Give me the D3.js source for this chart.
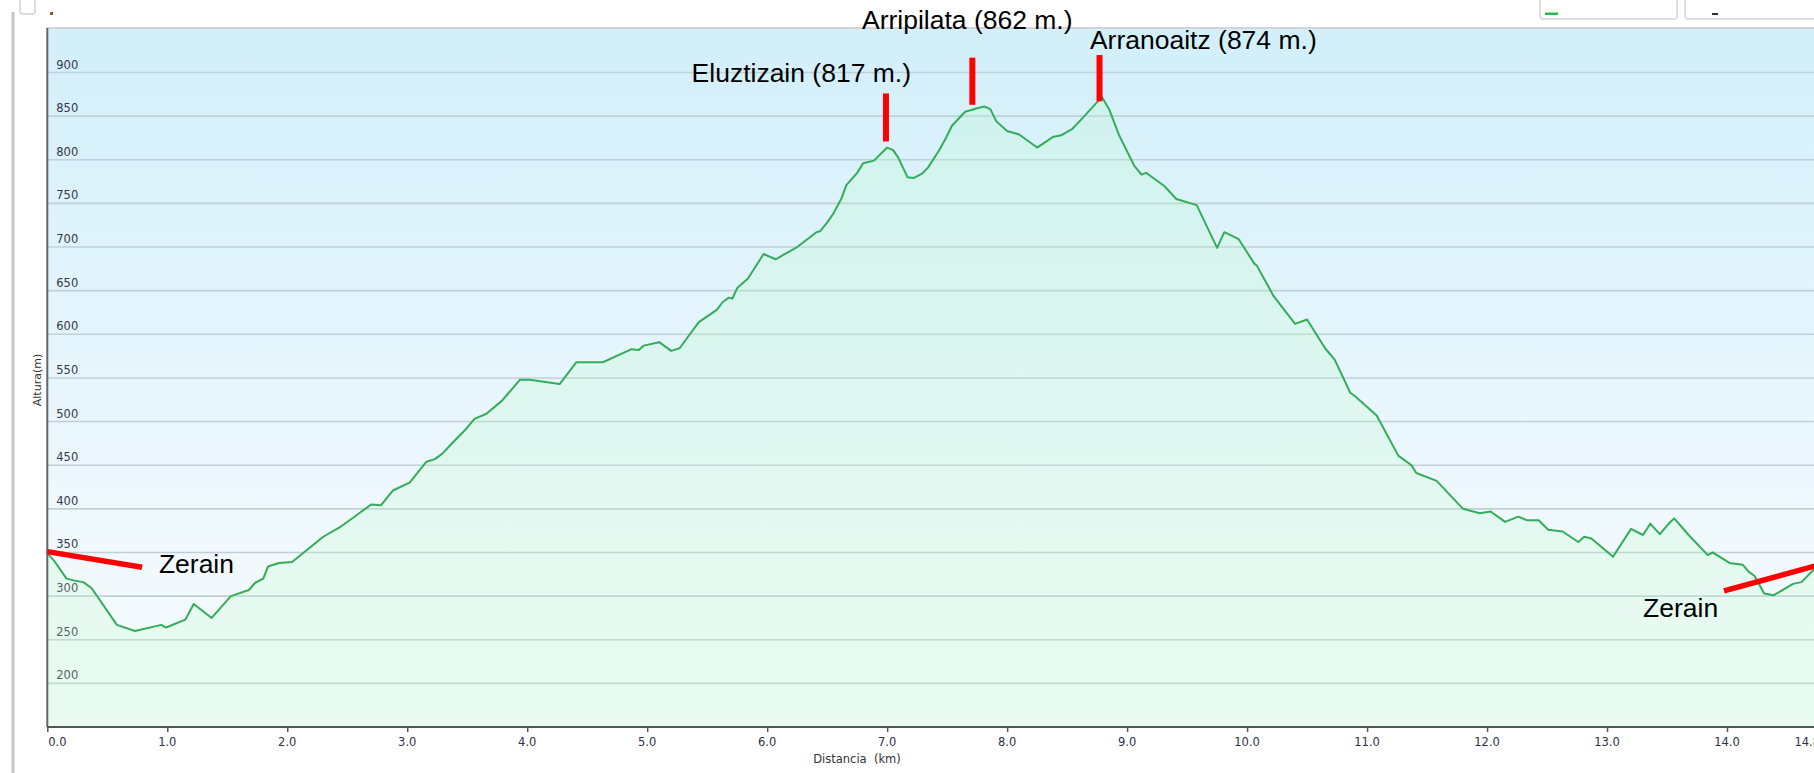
<!DOCTYPE html>
<html>
<head>
<meta charset="utf-8">
<script src="https://cdn.jsdelivr.net/npm/d3@7"></script>
<style>
  body { margin: 0; background: #fff; overflow: hidden; }
  svg { display: block; }
</style>
</head>
<body>
<svg id="main"></svg>
<script>
// perfil: distancia (km) y altura (m)
var distancia = [0.00, 0.06, 0.16, 0.22, 0.30, 0.37, 0.58, 0.73, 0.95, 0.99, 1.15, 1.22, 1.37, 1.53, 1.68, 1.73, 1.80, 1.84, 1.93, 2.04,
    2.30, 2.45, 2.54, 2.70, 2.78, 2.88, 3.02, 3.16, 3.23, 3.29, 3.38, 3.48, 3.56, 3.66, 3.79, 3.94, 4.02, 4.27, 4.41, 4.63,
    4.87, 4.93, 4.97, 5.10, 5.20, 5.27, 5.43, 5.58, 5.63, 5.68, 5.71, 5.75, 5.84, 5.97, 6.07, 6.25, 6.41, 6.44, 6.50, 6.55,
    6.62, 6.66, 6.75, 6.80, 6.89, 7.00, 7.05, 7.09, 7.17, 7.22, 7.29, 7.34, 7.43, 7.49, 7.54, 7.65, 7.75, 7.81, 7.86, 7.91,
    8.00, 8.10, 8.25, 8.38, 8.45, 8.54, 8.63, 8.79, 8.85, 8.93, 9.06, 9.12, 9.16, 9.19, 9.31, 9.41, 9.58, 9.75, 9.81, 9.93,
    10.06, 10.08, 10.22, 10.26, 10.40, 10.50, 10.65, 10.73, 10.86, 10.90, 11.08, 11.26, 11.37, 11.41, 11.58, 11.80, 11.94, 12.03, 12.15, 12.26,
    12.33, 12.43, 12.51, 12.63, 12.76, 12.81, 12.87, 13.05, 13.20, 13.30, 13.36, 13.44, 13.52, 13.56, 13.68, 13.84, 13.88, 14.02, 14.13, 14.18,
    14.23, 14.31, 14.39, 14.55, 14.62, 14.72, 14.80]
var altura = [349, 340, 320, 318, 316, 309, 267, 260, 267, 264, 273, 291, 275, 300, 307, 315, 320, 334, 338, 339,
    368, 380, 389, 405, 404, 421, 430, 454, 457, 463, 476, 490, 503, 509, 524, 548, 548, 543, 568, 568,
    583, 582, 587, 591, 581, 584, 614, 628, 637, 642, 641, 653, 664, 692, 686, 700, 717, 718, 728, 738,
    756, 771, 785, 796, 799, 814, 811, 803, 780, 779, 784, 791, 810, 825, 839, 855, 859, 861, 858, 844,
    833, 829, 814, 826, 828, 835, 848, 872, 858, 829, 793, 783, 785, 782, 770, 755, 748, 699, 717, 709,
    681, 679, 644, 637, 612, 617, 584, 571, 533, 529, 507, 461, 450, 441, 432, 400, 395, 397, 385, 391,
    387, 387, 376, 374, 362, 368, 366, 345, 377, 370, 383, 371, 384, 389, 370, 347, 350, 338, 336, 328,
    323, 303, 301, 314, 316, 330, 338]

var yTicks = [200, 250, 300, 350, 400, 450, 500, 550, 600, 650, 700, 750, 800, 850, 900]
var xTicks = [0, 1, 2, 3, 4, 5, 6, 7, 8, 9, 10, 11, 12, 13, 14]
var xLabels = ["0.0", "1.0", "2.0", "3.0", "4.0", "5.0", "6.0", "7.0", "8.0", "9.0", "10.0", "11.0", "12.0", "13.0", "14.0", "14.8"]
var xLabelValues = [0, 1, 2, 3, 4, 5, 6, 7, 8, 9, 10, 11, 12, 13, 14, 14.8]

// cimas: nombre, km de la marca, altura de la marca (baja / alta)
var cimaNombre = ["Eluztizain (817 m.)", "Arripilata (862 m.)", "Arranoaitz (874 m.)"]
var cimaKm = [6.99, 7.71, 8.77]
var cimaBaja = [821, 863, 867]
var cimaAlta = [876, 917, 920]
var cimaTextoKm = [5.37, 6.79, 8.69]
var cimaTextoAlt = [889, 950, 927]

// Zerain: salida y llegada
var zerainKm = [[0, 0.79], [13.975, 14.8]]
var zerainAlt = [[351, 333], [306, 337]]
var zerainTextoKm = [0.93, 13.30]
var zerainTextoAlt = [326, 276]

var W = 1814, H = 773
var svg = d3.select('#main').attr('width', W).attr('height', H)

var x = d3.scaleLinear().domain([0, 14.8]).range([47.3, 1823])
var y = d3.scaleLinear().domain([150, 951]).range([727, 28])
var plotLeft = x(0), plotRight = x(14.8), plotTop = y(951), plotBottom = y(150)

var defs = svg.append('defs')
var bg = defs.append('linearGradient').attr('id', 'fondo')
    .attr('x1', 0).attr('y1', 0).attr('x2', 0).attr('y2', 1)
bg.append('stop').attr('offset', '0%').attr('stop-color', '#d2effa')
bg.append('stop').attr('offset', '40%').attr('stop-color', '#e3f4fc')
bg.append('stop').attr('offset', '75%').attr('stop-color', '#f1f9fe')
bg.append('stop').attr('offset', '100%').attr('stop-color', '#f6fcfd')

// marco exterior y controles recortados arriba
svg.append('line').attr('x1', 13).attr('x2', 13).attr('y1', 12).attr('y2', H)
    .attr('stroke', '#c4c4c8').attr('stroke-width', 3)
svg.append('rect').attr('x', 20).attr('y', -6).attr('width', 15).attr('height', 20).attr('rx', 2)
    .attr('fill', '#fff').attr('stroke', '#b8b8b8')
svg.append('rect').attr('x', 50).attr('y', 12).attr('width', 3).attr('height', 3).attr('fill', '#8a5a2a')
svg.append('rect').attr('x', 1540).attr('y', -10).attr('width', 137).attr('height', 29).attr('rx', 3)
    .attr('fill', '#fff').attr('stroke', '#dedee2').attr('stroke-width', 2)
svg.append('rect').attr('x', 1685).attr('y', -10).attr('width', 140).attr('height', 29).attr('rx', 3)
    .attr('fill', '#fff').attr('stroke', '#dedee2').attr('stroke-width', 2)
svg.append('rect').attr('x', 1545).attr('y', 12.5).attr('width', 13).attr('height', 2.5).attr('fill', '#2db84f')
svg.append('rect').attr('x', 1712).attr('y', 13).attr('width', 6).attr('height', 2).attr('fill', '#333')

// fondo del grafico
svg.append('rect').attr('x', plotLeft).attr('y', plotTop)
    .attr('width', plotRight - plotLeft).attr('height', plotBottom - plotTop)
    .attr('fill', 'url(#fondo)')

// rejilla y etiquetas del eje Y
svg.append('g').selectAll('line').data(yTicks).enter().append('line')
    .attr('x1', plotLeft).attr('x2', plotRight)
    .attr('y1', function(d) { return y(d) }).attr('y2', function(d) { return y(d) })
    .attr('stroke', '#c0d0d8').attr('stroke-width', 1.6)

svg.append('g').selectAll('text').data(yTicks).enter().append('text')
    .attr('x', plotLeft + 9)
    .attr('y', function(d) { return y(d) - 4 })
    .text(function(d) { return d })
    .style('font-family', 'DejaVu Sans, Verdana, sans-serif')
    .style('font-size', '11.5px')
    .attr('fill', '#36364a')

// area y linea del perfil
var puntos = distancia.map(function(d, i) { return [d, altura[i]] })
var area = d3.area()
    .x(function(d) { return x(d[0]) })
    .y0(plotBottom)
    .y1(function(d) { return y(d[1]) })
var linea = d3.line()
    .x(function(d) { return x(d[0]) })
    .y(function(d) { return y(d[1]) })

svg.append('path').datum(puntos).attr('d', area)
    .attr('fill', 'rgb(185,250,195)').attr('fill-opacity', 0.22)
svg.append('path').datum(puntos).attr('d', linea)
    .attr('fill', 'none').attr('stroke', '#34ad58').attr('stroke-width', 2)
    .attr('stroke-linejoin', 'round')

// bordes
svg.append('line').attr('x1', plotLeft - 1).attr('x2', W).attr('y1', plotTop).attr('y2', plotTop)
    .attr('stroke', '#d2d4d6').attr('stroke-width', 2)
svg.append('line').attr('x1', plotLeft).attr('x2', plotLeft).attr('y1', plotTop).attr('y2', plotBottom)
    .attr('stroke', '#666').attr('stroke-width', 2)

// eje X
var xAxis = svg.append('g').attr('transform', 'translate(0,' + plotBottom + ')')
    .call(d3.axisBottom(x).tickValues(xTicks).tickSize(5).tickFormat(''))
xAxis.select('.domain').attr('stroke', '#555').attr('stroke-width', 2)
    .attr('d', 'M' + plotLeft + ',0H' + plotRight)
xAxis.selectAll('.tick line').attr('stroke', '#555').attr('stroke-width', 1.5)

svg.append('g').selectAll('text').data(xLabelValues).enter().append('text')
    .attr('x', function(d, i) {
        if (i === 0) return x(d) + 1
        if (i === xLabelValues.length - 1) return x(d) - 3
        return x(d)
    })
    .attr('y', plotBottom + 19)
    .attr('text-anchor', function(d, i) {
        if (i === 0) return 'start'
        if (i === xLabelValues.length - 1) return 'end'
        return 'middle'
    })
    .text(function(d, i) { return xLabels[i] })
    .style('font-family', 'DejaVu Sans, Verdana, sans-serif')
    .style('font-size', '11.5px')
    .attr('fill', '#2f2f4a')

svg.append('text').attr('x', 857).attr('y', 763).attr('text-anchor', 'middle')
    .text('Distancia  (km)')
    .style('white-space', 'pre')
    .style('font-family', 'DejaVu Sans, Verdana, sans-serif')
    .style('font-size', '11.5px').attr('fill', '#333')

svg.append('text').attr('transform', 'translate(41,380) rotate(-90)').attr('text-anchor', 'middle')
    .text('Altura(m)')
    .style('font-family', 'DejaVu Sans, Verdana, sans-serif')
    .style('font-size', '11px').attr('fill', '#333')

// marcas de las cimas
var cimas = svg.append('g')
cimas.selectAll('line').data(cimaKm).enter().append('line')
    .attr('x1', function(d) { return x(d) }).attr('x2', function(d) { return x(d) })
    .attr('y1', function(d, i) { return y(cimaBaja[i]) })
    .attr('y2', function(d, i) { return y(cimaAlta[i]) })
    .attr('stroke', '#ff0000').attr('stroke-width', 6)
cimas.selectAll('text').data(cimaNombre).enter().append('text')
    .attr('x', function(d, i) { return x(cimaTextoKm[i]) })
    .attr('y', function(d, i) { return y(cimaTextoAlt[i]) })
    .text(function(d) { return d })
    .style('font-family', 'Liberation Sans, Arial, sans-serif')
    .style('font-size', '26.5px').attr('fill', '#000')

// Zerain
var zerain = svg.append('g')
zerain.selectAll('line').data(zerainKm).enter().append('line')
    .attr('x1', function(d) { return x(d[0]) }).attr('x2', function(d) { return x(d[1]) })
    .attr('y1', function(d, i) { return y(zerainAlt[i][0]) })
    .attr('y2', function(d, i) { return y(zerainAlt[i][1]) })
    .attr('stroke', '#ff0000').attr('stroke-width', 5.5)
zerain.selectAll('text').data(zerainTextoKm).enter().append('text')
    .attr('x', function(d) { return x(d) })
    .attr('y', function(d, i) { return y(zerainTextoAlt[i]) })
    .text('Zerain')
    .style('font-family', 'Liberation Sans, Arial, sans-serif')
    .style('font-size', '26.5px').attr('fill', '#000')
</script>
</body>
</html>
